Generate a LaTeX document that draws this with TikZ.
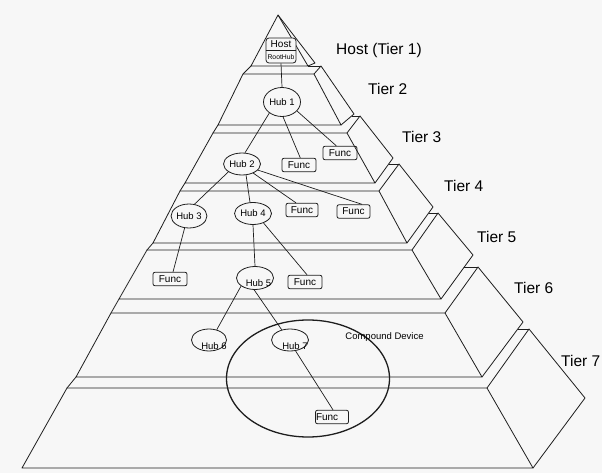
\documentclass[tikz,border=0pt]{standalone}
\usepackage{fontspec}
\setmainfont{Liberation Sans}
\usetikzlibrary{shapes.geometric}
\definecolor{bg}{RGB}{247,247,247}
\definecolor{ink}{RGB}{30,30,30}
\begin{document}
\begin{tikzpicture}[x=1pt,y=-1pt,
  edge/.style={draw=ink, line width=0.8pt, line join=round},
  link/.style={draw=ink, line width=0.7pt},
  hubfont/.style={font=\fontsize{9.5}{10}\selectfont},
  hub/.style={ellipse, draw=ink, line width=0.8pt, inner sep=0pt,
    minimum width=37pt, minimum height=22pt, hubfont},
  func/.style={rectangle, rounded corners=2pt, draw=ink, line width=0.8pt,
    minimum width=33pt, minimum height=13.5pt, inner sep=0pt,
    font=\fontsize{10}{10}\selectfont},
  tier/.style={anchor=base west, inner sep=0pt, font=\fontsize{15.5}{16}\selectfont},
]
\fill[bg] (0,0) rectangle (602,473);
\useasboundingbox (0,0) rectangle (602,473);

% ---- top tier: a pointed cap ----
\coordinate (t1A)   at (278,15);
\coordinate (t1BL)  at (251,66);
\coordinate (t1BR)  at (308,66);
\coordinate (t1SBB) at (315,63);
\draw[edge] (t1A) -- (t1BR) -- (t1BL) -- cycle;
\draw[edge] (t1A) -- (t1SBB) -- (t1BR);

% ---- stepped tiers: front face, side face, top ledge ----
% k / top-left x / top-right x / top y / bottom-left x / bottom-right x / bottom y /
% side back-top x,y / side back-bottom x,y / ledge end x / tier above
\foreach \k/\tlx/\trx/\ty/\blx/\brx/\by/\sbx/\sby/\sbbx/\sbby/\hx/\p in {
  2/243/314/74/218/341/125/321/66/354/114/308/1,
  3/213/347/133/185/375/183/360/116/393/158/351.6/2,
  4/180/379/191/153/407/243/399/164/433/207/388.7/3,
  5/147/412/250/119/441/299/438/213/473/255/428.5/4,
  6/111/445/313/76/482/377/478/267/523/322/464.3/5,
  7/67/487/388/22/533/468/529/329/585/398/517.8/6}
{
  \coordinate (t\k TL)  at (\tlx,\ty);
  \coordinate (t\k TR)  at (\trx,\ty);
  \coordinate (t\k BL)  at (\blx,\by);
  \coordinate (t\k BR)  at (\brx,\by);
  \coordinate (t\k SB)  at (\sbx,\sby);
  \coordinate (t\k SBB) at (\sbbx,\sbby);
  \draw[edge] (t\k TL) -- (t\k TR) -- (t\k BR) -- (t\k BL) -- cycle;
  \draw[edge] (t\k TR) -- (t\k SB) -- (t\k SBB) -- (t\k BR);
  \draw[edge] (t\k TL) -- (t\p BL);
  \draw[edge] (t\k SB) -- (\hx,\sby);
}

% ---- tier labels ----
\node[tier] (lab1) at (336,54.5) {Host (Tier 1)};
\node[tier] (lab2) at (368,95) {Tier 2};
\node[tier] (lab3) at (402,143) {Tier 3};
\node[tier] (lab4) at (444,192) {Tier 4};
\node[tier] (lab5) at (477,242) {Tier 5};
\node[tier] (lab6) at (514,293) {Tier 6};
\node[tier] (lab7) at (561,366) {Tier 7};

% ---- compound device outline ----
\node[ellipse, draw=ink, line width=1.3pt, minimum width=163pt, minimum height=117pt,
      inner sep=0pt] (compound) at (308,378.5) {};
\node[inner sep=0pt, font=\fontsize{9.5}{10}\selectfont] (cdlabel) at (384.5,337.5) {Compound Device};

% ---- host with root hub ----
\node[rectangle, rounded corners=3pt, draw=ink, line width=0.8pt, fill=bg,
      minimum width=30pt, minimum height=25pt, inner sep=0pt] (host) at (281,50.5) {};
\draw[link] (host.west) -- (host.east);
\node[inner sep=0pt, font=\fontsize{10}{10}\selectfont] (hostname) at (281,44.5) {Host};
\node[inner sep=0pt, font=\fontsize{6.8}{7}\selectfont] (roothub) at (281,57.5) {RootHub};

% ---- hubs ----
\node[hub, minimum height=29pt] (hub1) at (282,102) {Hub 1};
\node[hub] (hub2) at (242,164) {Hub 2};
\node[hub, minimum width=35pt, minimum height=24pt] (hub3) at (189,216) {Hub 3};
\node[hub] (hub4) at (253,213.5) {Hub 4};
\node[hub, minimum height=23pt,
      label={[inner sep=0pt, hubfont, xshift=3.5pt, yshift=-5pt]center:Hub 5}] (hub5) at (255,278) {};
\node[hub, minimum width=35pt,
      label={[inner sep=0pt, hubfont, xshift=5pt, yshift=-6pt]center:Hub 6}] (hub6) at (209,340) {};
\node[hub,
      label={[inner sep=0pt, hubfont, xshift=5pt, yshift=-6pt]center:Hub 7}] (hub7) at (290,340) {};

% ---- functions ----
\node[func, minimum width=34pt] (f1) at (299,165) {Func};
\node[func, minimum width=34pt] (f2) at (340,153) {Func};
\node[func, minimum width=32pt] (f3) at (302,210) {Func};
\node[func] (f4) at (353.5,211.5) {Func};
\node[func, minimum width=34pt] (f5) at (170,279) {Func};
\node[func, minimum width=34pt] (f6) at (305,282) {Func};
\node[func, text width=32pt, inner xsep=0.5pt, align=left] (f7) at (332,417) {Func};

% ---- connections ----
\draw[link] (host.south) -- (hub1.north);
\draw[link] (hub1.221) -- (hub2.75);
\draw[link] (hub1.274) -- (f1.80);
\draw[link] (hub1.329) -- (f2.117);
\draw[link] (hub2.210) -- (hub3.65);
\draw[link] (hub2.290) -- (hub4.105);
\draw[link] (hub2.321) -- (f3.130);
\draw[link] (hub2.339) -- (f4.40);
\draw[link] (hub3.250) -- (f5.67);
\draw[link] (hub4.south) -- (hub5.north);
\draw[link] (hub4.318) -- (f6.74);
\draw[link] (hub5.210) -- (hub6.53);
\draw[link] (hub5.266) -- (hub7.129);
\draw[link] (hub7.297) -- (f7.82);
\end{tikzpicture}
\end{document}
